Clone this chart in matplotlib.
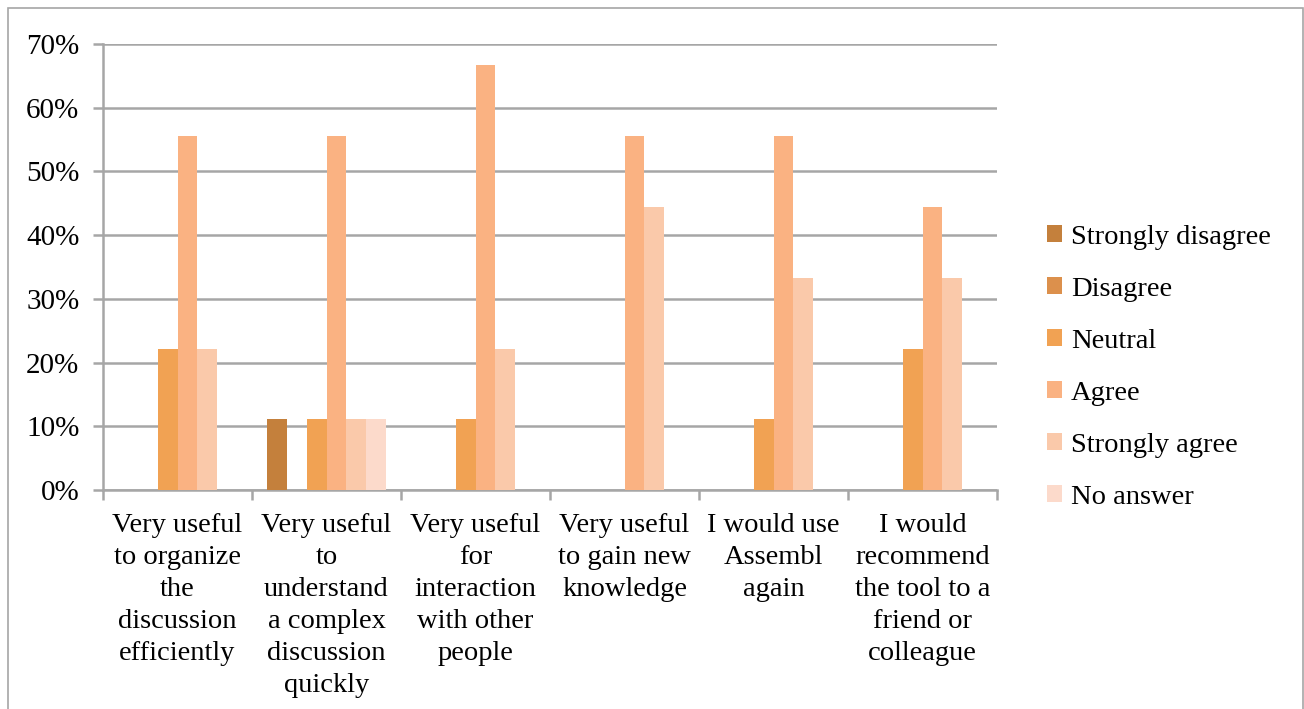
import matplotlib
matplotlib.use("Agg")
import matplotlib.pyplot as plt
from matplotlib.patches import Rectangle, Patch
import numpy as np

categories = [
    "Very useful\nto organize\nthe\ndiscussion\nefficiently",
    "Very useful\nto\nunderstand\na complex\ndiscussion\nquickly",
    "Very useful\nfor\ninteraction\nwith other\npeople",
    "Very useful\nto gain new\nknowledge",
    "I would use\nAssembl\nagain",
    "I would\nrecommend\nthe tool to a\nfriend or\ncolleague",
]
series_names = ["Strongly disagree", "Disagree", "Neutral", "Agree", "Strongly agree", "No answer"]
strongly_disagree = [0, 11.1, 0, 0, 0, 0]
disagree = [0, 0, 0, 0, 0, 0]
neutral = [22.2, 11.1, 11.1, 0, 11.1, 22.2]
agree = [55.6, 55.6, 66.7, 55.6, 55.6, 44.4]
strongly_agree = [22.2, 11.1, 22.2, 44.4, 33.3, 33.3]
no_answer = [0, 11.1, 0, 0, 0, 0]
series_values = [strongly_disagree, disagree, neutral, agree, strongly_agree, no_answer]
colors = ["#C4803C", "#DC904C", "#F1A253", "#FAB282", "#FAC9AA", "#FCDACB"]
yticks = [0, 10, 20, 30, 40, 50, 60, 70]
ytick_labels = ["0%", "10%", "20%", "30%", "40%", "50%", "60%", "70%"]

plt.rcParams['font.family'] = ['Liberation Serif', 'DejaVu Serif']
FS = 20.5

W, H = 1304, 709
fig = plt.figure(figsize=(W / 100, H / 100), dpi=100)
fig.patches.append(Rectangle((8 / W, -0.05), (W - 9) / W, 1.05 - 8 / H, transform=fig.transFigure,
                             fill=False, edgecolor="#A6A6A6", linewidth=1.2))

ax = fig.add_axes([103 / W, 1 - 490 / H, (997 - 103) / W, (490 - 44) / H])
n = len(series_names)
gap = 1.5
bw = 1.0 / (n + gap)
x = np.arange(len(categories))
for i, (name, vals, c) in enumerate(zip(series_names, series_values, colors)):
    ax.bar(x + (gap / 2 + i + 0.5) * bw, vals, width=bw, color=c, label=name, zorder=3)

ax.set_xlim(0, len(categories))
ax.set_ylim(0, 70)
ax.set_yticks(yticks)
ax.set_yticklabels(ytick_labels, fontsize=FS + 0.5)
ax.yaxis.grid(True, color="#A6A6A6", linewidth=1.8, zorder=0)
ax.set_axisbelow(True)
for s in ["top", "right"]:
    ax.spines[s].set_visible(False)
for s in ["left", "bottom"]:
    ax.spines[s].set_color("#A6A6A6")
    ax.spines[s].set_linewidth(1.8)
ax.tick_params(axis="y", length=7, width=1.8, color="#A6A6A6", pad=10)
ax.set_xticks(np.arange(len(categories) + 1))
ax.set_xticklabels([])
ax.tick_params(axis="x", length=7, width=1.8, color="#A6A6A6")
for xi, lab in zip(x, categories):
    ax.text(xi + 0.5, -3.6, lab, ha="center", va="top", fontsize=FS, linespacing=1.37)

handles = [Patch(facecolor=c, label=nm) for nm, c in zip(series_names, colors)]
fig.legend(handles=handles, loc="upper left", bbox_to_anchor=(1021 / W, 1 - 199 / H),
           frameon=False, fontsize=FS, handlelength=0.55, handleheight=0.55,
           handletextpad=0.3, labelspacing=0.95)

fig.savefig("out.png", dpi=100)
